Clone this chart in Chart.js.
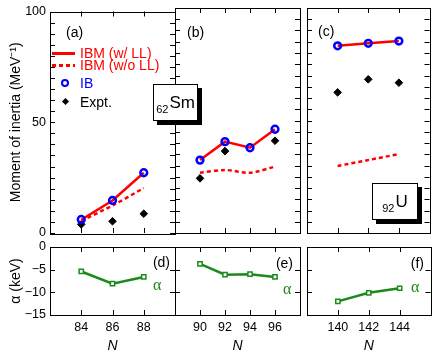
<!DOCTYPE html>
<html>
<head>
<meta charset="utf-8">
<script src="https://cdn.jsdelivr.net/npm/chart.js@4"></script>
<style>
body{margin:0;background:#fff;font-family:'Liberation Sans',Arial,sans-serif;overflow:hidden}
#wrap{position:relative;width:436px;height:359px}
canvas{position:absolute;left:0;top:0}
.t{position:absolute;white-space:nowrap;transform:translateY(-50%);line-height:1;font-size:14px}
.box{position:absolute;background:#fff;border:1px solid #000;box-shadow:4px 4px 0 #000;box-sizing:border-box;display:flex;align-items:center;justify-content:center;font-size:17px}
.box span{font-size:11px;position:relative;top:6px;margin-right:1px}
.alpha{position:absolute;color:#1b8a1b;font-family:'Liberation Serif',serif;font-size:16px;transform:translateY(-50%);line-height:1}
</style>
</head>
<body>
<div id="wrap">
<canvas id="pa" width="436" height="359"></canvas>
<canvas id="pb" width="436" height="359"></canvas>
<canvas id="pc" width="436" height="359"></canvas>
<canvas id="pd" width="436" height="359"></canvas>
<canvas id="pe" width="436" height="359"></canvas>
<canvas id="pf" width="436" height="359"></canvas>

<div class="t" style="left:66px;top:32px">(a)</div>
<div class="t" style="left:187px;top:32px">(b)</div>
<div class="t" style="left:318px;top:31px">(c)</div>
<div class="t" style="right:266px;top:262px">(d)</div>
<div class="t" style="right:143px;top:263px">(e)</div>
<div class="t" style="right:12px;top:263px">(f)</div>

<div style="position:absolute;left:52px;top:52px;width:23px;height:2.5px;background:#f00"></div>
<div style="position:absolute;left:52px;top:64px;width:23px;height:2.5px;background:repeating-linear-gradient(90deg,#f00 0 4px,transparent 4px 7px)"></div>
<div style="position:absolute;left:61px;top:79px;width:8px;height:8px;border:2.5px solid #00f;border-radius:50%;box-sizing:border-box"></div>
<div style="position:absolute;left:62.5px;top:99px;width:5px;height:5px;background:#000;transform:rotate(45deg)"></div>
<div class="t" style="left:80px;top:53px;color:#f00">IBM (w/ LL)</div>
<div class="t" style="left:80px;top:65px;color:#f00">IBM (w/o LL)</div>
<div class="t" style="left:80px;top:83px;color:#00f">IB</div>
<div class="t" style="left:80px;top:102px">Expt.</div>

<div class="box" style="left:153px;top:84px;width:45px;height:37px"><span>62</span>Sm</div>
<div class="box" style="left:372px;top:183px;width:46px;height:37px"><span>92</span>U</div>

<div class="alpha" style="left:153px;top:285px">α</div>
<div class="alpha" style="left:283px;top:289px">α</div>
<div class="alpha" style="left:411px;top:287px">α</div>
</div>

<script>
// 62Sm, N = 84-88
const nA = [84, 86, 88];
const ibmLLA = [6.0, 14.7, 27.2];
const ibmNoLLA = [5.5, 12.4, 20.3];
const ibA = [6.1, 14.7, 27.2];
const exptA = [3.9, 5.3, 8.7];
const alphaA = [-5.4, -8.1, -6.6];

// 62Sm, N = 90-96
const nB = [90, 92, 94, 96];
const ibmLLB = [32.4, 40.6, 37.9, 46.1];
const ibmNoLLB = [26.8, 28.0, 26.8, 29.5];
const ibB = [32.4, 40.6, 37.9, 46.1];
const exptB = [24.3, 36.4, null, 41.0];
const alphaB = [-3.7, -6.1, -6.0, -6.6];

// 92U, N = 140-144
const nC = [140, 142, 144];
const ibmLLC = [83.2, 84.3, 85.3];
const ibmNoLLC = [29.8, 32.4, 35.1];
const ibC = [83.2, 84.3, 85.3];
const exptC = [62.5, 68.3, 66.8];
const alphaC = [-12.0, -10.1, -9.1];

// axis ticks
const momTicks = [0, 50, 100];
const alphaTicks = [0, -5, -10, -15];

const RED = '#ff0000', BLUE = '#0000ff', GREEN = '#1b8a1b';
const W = 436, H = 359;
const tickFont = {family: "'Liberation Sans', Arial, sans-serif", size: 12.5};
const titleFont = {family: "'Liberation Sans', Arial, sans-serif", size: 14};

const pts = (xs, ys) => xs.map((x, i) => ({x: x, y: ys[i]}));

// frame + inward ticks
const frame = {
  id: 'frame',
  afterDatasetsDraw(chart, args, o) {
    const {ctx, chartArea: a, scales: {x, y}} = chart;
    ctx.save();
    ctx.strokeStyle = '#000';
    ctx.lineWidth = 1;
    ctx.beginPath();
    o.xt.forEach(v => {
      const px = Math.round(x.getPixelForValue(v)) + 0.5;
      ctx.moveTo(px, a.bottom); ctx.lineTo(px, a.bottom - 5);
      ctx.moveTo(px, a.top); ctx.lineTo(px, a.top + 5);
    });
    for (let v = y.min; v <= y.max; v += o.minor) {
      const py = Math.round(y.getPixelForValue(v)) + 0.5;
      ctx.moveTo(a.left, py); ctx.lineTo(a.left + 5, py);
      ctx.moveTo(a.right, py); ctx.lineTo(a.right - 5, py);
    }
    ctx.stroke();
    ctx.strokeRect(Math.round(a.left) + 0.5, Math.round(a.top) + 0.5,
      Math.round(a.right - a.left), Math.round(a.bottom - a.top));
    ctx.restore();
  }
};

function panel(id, box, xr, xt, yr, yTicks, minor, datasets, showY, yTitle, bottom) {
  new Chart(document.getElementById(id), {
    type: 'line',
    data: {datasets: datasets},
    plugins: [frame],
    options: {
      responsive: false,
      animation: false,
      layout: {padding: {left: showY ? 0 : box.l, top: box.t, right: W - box.r, bottom: bottom ? 0 : H - box.b}},
      plugins: {legend: {display: false}, tooltip: {enabled: false}, frame: {xt: xt, minor: minor}},
      scales: {
        x: {
          type: 'linear', min: xr[0], max: xr[1], display: bottom,
          afterBuildTicks: s => { s.ticks = xt.map(v => ({value: v})); },
          afterFit: s => { if (bottom) s.height = H - box.b; },
          grid: {display: false, drawTicks: false}, border: {display: false},
          ticks: {padding: 5, color: '#000', font: tickFont, maxRotation: 0},
          title: {display: true, text: 'N', color: '#000', font: Object.assign({style: 'italic'}, titleFont), padding: {top: 0, bottom: 4}}
        },
        y: {
          min: yr[0], max: yr[1], display: showY,
          afterBuildTicks: s => { s.ticks = yTicks.map(v => ({value: v})); },
          afterFit: s => { if (showY) s.width = box.l; },
          grid: {display: false, drawTicks: false}, border: {display: false},
          ticks: {padding: 4, color: '#000', font: tickFont, callback: v => String(v).replace('-', '\u2212')},
          title: {display: true, text: yTitle, color: '#000', font: titleFont, padding: {top: 8, bottom: 0}}
        }
      }
    }
  });
}

function topSets(n, ll, noll, ib, ex) {
  return [
    {data: pts(n, ib), showLine: false, pointStyle: 'circle', pointRadius: 3.4, borderWidth: 2.5,
     pointBorderColor: BLUE, pointBackgroundColor: 'rgba(0,0,0,0)', order: 0},
    {data: pts(n, ll), borderColor: RED, borderWidth: 2.5, pointRadius: 0, order: 1},
    {data: pts(n, noll), borderColor: RED, borderWidth: 2.5, borderDash: [4, 3], pointRadius: 0, tension: 0.3, order: 2},
    {data: pts(n, ex), showLine: false, pointStyle: 'rectRot', pointRadius: 3.8,
     pointBorderColor: '#000', pointBackgroundColor: '#000', borderWidth: 1, order: 3}
  ];
}

function alphaSet(n, a) {
  return [{data: pts(n, a), borderColor: GREEN, borderWidth: 2.5, pointStyle: 'rect', pointRadius: 3,
    pointBorderColor: GREEN, pointBackgroundColor: '#fff', pointBorderWidth: 1.5}];
}

const momTitle = 'Moment of inertia (MeV\u207B\u00B9)';
const alphaTitle = '\u03B1 (keV)';

panel('pa', {l: 50, t: 8, r: 175, b: 233}, [82, 90], nA, [0, 100], momTicks, 5,
  topSets(nA, ibmLLA, ibmNoLLA, ibA, exptA), true, momTitle, false);
panel('pb', {l: 175, t: 8, r: 300, b: 233}, [88, 98], nB, [0, 100], momTicks, 5,
  topSets(nB, ibmLLB, ibmNoLLB, ibB, exptB), false, momTitle, false);
panel('pc', {l: 307, t: 8, r: 431, b: 233}, [138, 146], nC, [0, 100], momTicks, 5,
  topSets(nC, ibmLLC, ibmNoLLC, ibC, exptC), false, momTitle, false);
panel('pd', {l: 50, t: 247, r: 175, b: 315}, [82, 90], nA, [-15, 0], alphaTicks, 5,
  alphaSet(nA, alphaA), true, alphaTitle, true);
panel('pe', {l: 175, t: 247, r: 300, b: 315}, [88, 98], nB, [-15, 0], alphaTicks, 5,
  alphaSet(nB, alphaB), false, alphaTitle, true);
panel('pf', {l: 307, t: 247, r: 431, b: 315}, [138, 146], nC, [-15, 0], alphaTicks, 5,
  alphaSet(nC, alphaC), false, alphaTitle, true);
</script>
</body>
</html>
